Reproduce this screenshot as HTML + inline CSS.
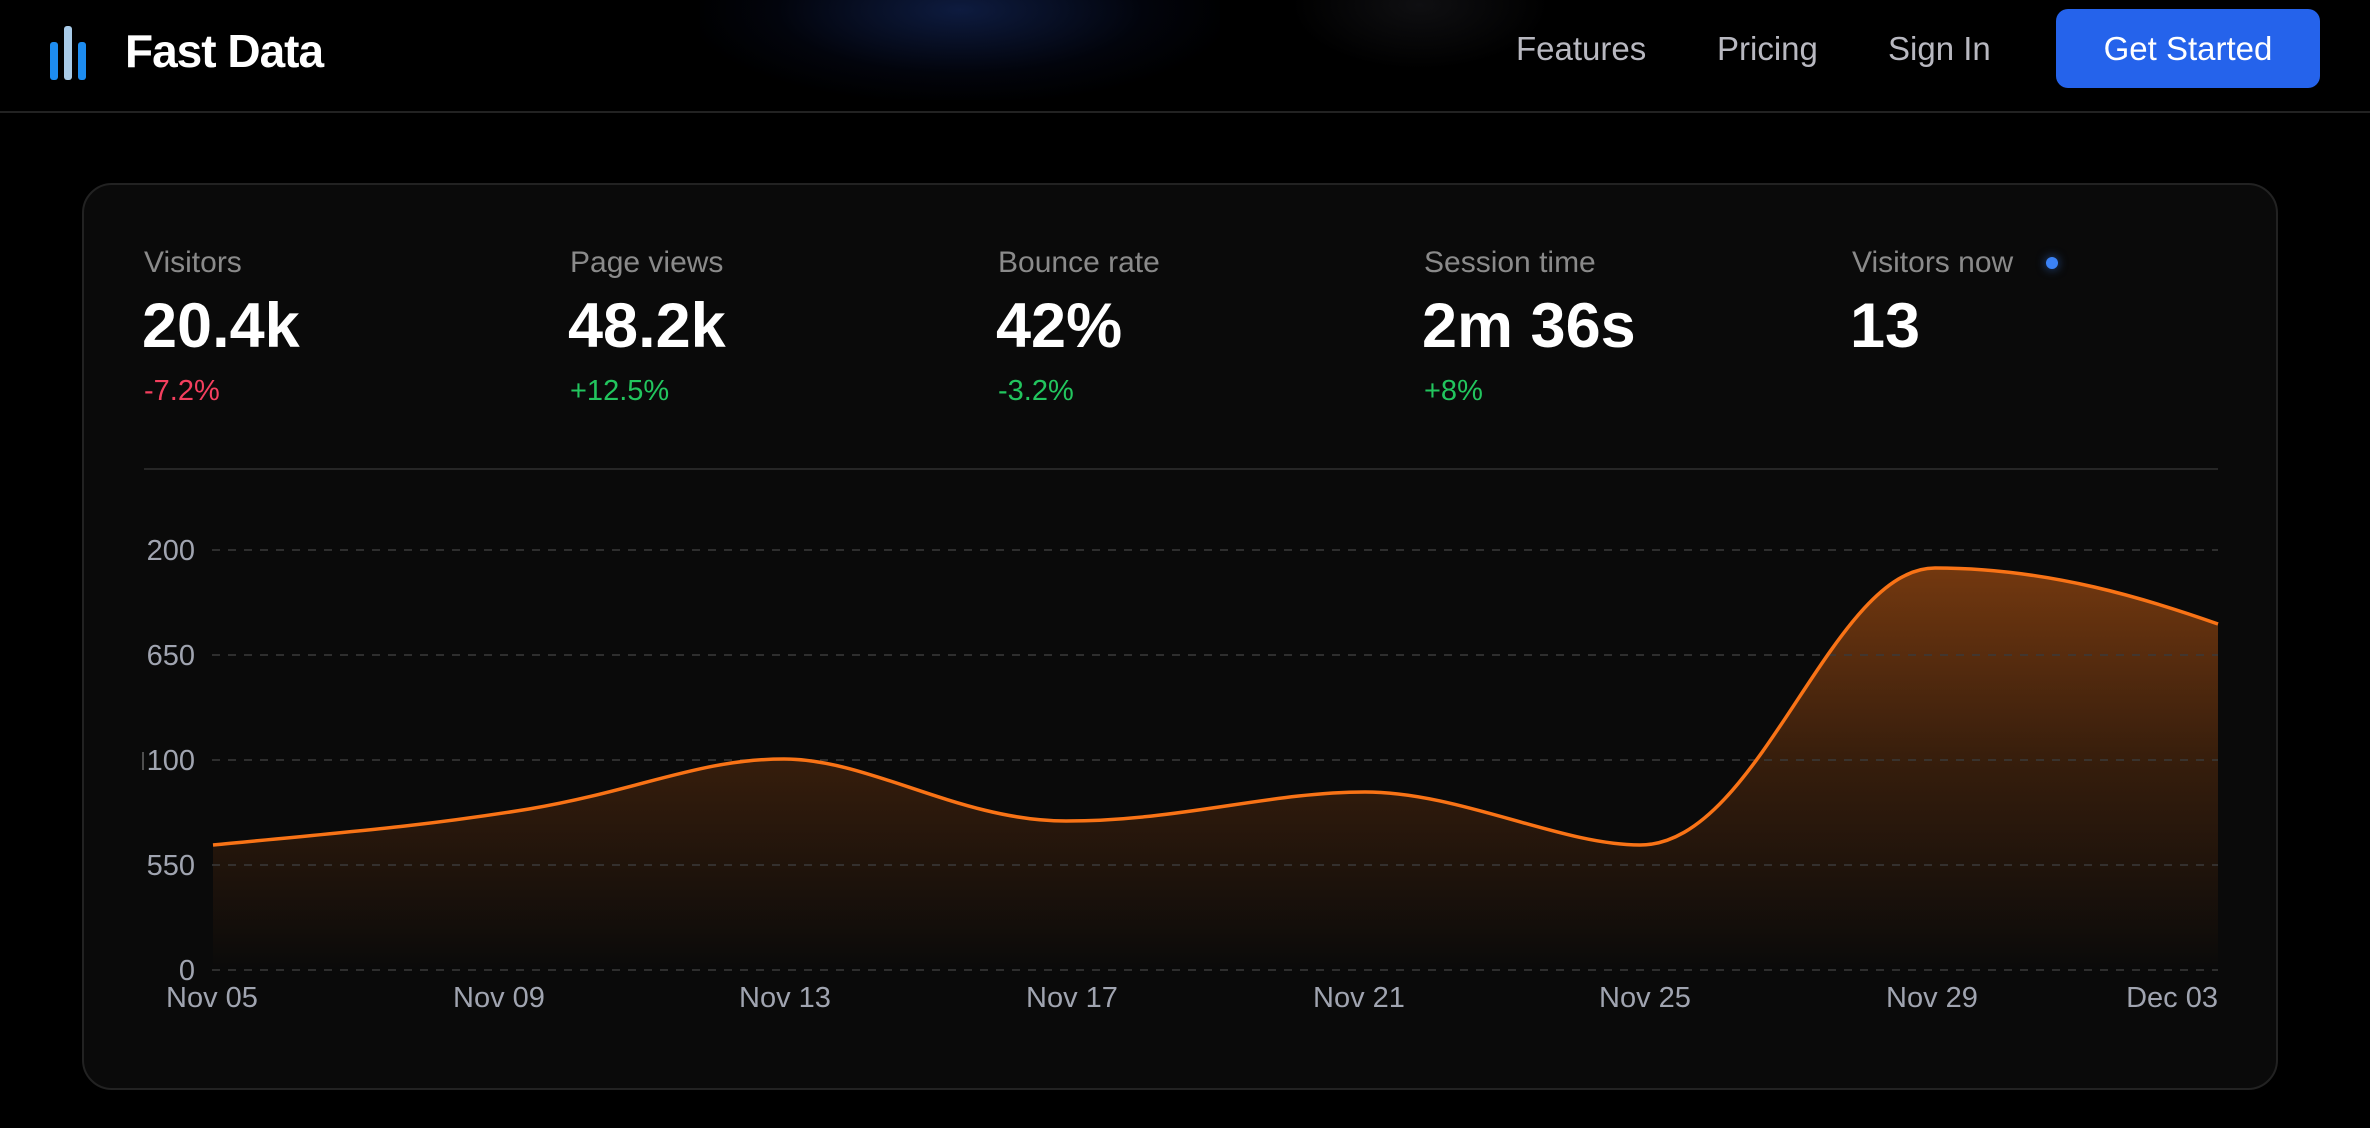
<!DOCTYPE html>
<html><head><meta charset="utf-8"><style>
*{margin:0;padding:0;box-sizing:border-box}
body{width:2370px;height:1128px;background:#000;font-family:"Liberation Sans",sans-serif;position:relative;overflow:hidden}
.glow{position:absolute;left:700px;top:-80px;width:520px;height:180px;background:radial-gradient(ellipse at center,rgba(30,60,140,0.45),rgba(10,20,60,0.2) 50%,rgba(0,0,0,0) 75%)}
.glow2{position:absolute;left:1290px;top:-60px;width:260px;height:130px;background:radial-gradient(ellipse at center,rgba(60,60,70,0.25),rgba(0,0,0,0) 70%)}
.hdr{position:absolute;left:0;top:0;width:2370px;height:113px;border-bottom:2px solid #222}
.logo{position:absolute;left:125px;top:24px;color:#fff;font-weight:bold;font-size:46px;letter-spacing:-1px}
.nav{position:absolute;top:30px;color:#b8b8c0;font-size:33px}
.btn{position:absolute;left:2056px;top:9px;width:264px;height:79px;background:#2563eb;border-radius:12px;color:#fff;font-size:33px;text-align:center;line-height:79px}
.card{position:absolute;left:82px;top:183px;width:2196px;height:907px;background:#0a0a0a;border:2px solid #222;border-radius:30px}
.lab{position:absolute;top:246px;color:#8a8a8a;font-size:30px}
.val{position:absolute;top:290px;color:#fff;font-size:63px;font-weight:bold}
.chg{position:absolute;top:375px;font-size:29px}
.r{color:#f43f5e}.g{color:#22c55e}
.div{position:absolute;left:144px;top:468px;width:2074px;height:2px;background:#262626}
</style></head><body>
<div class="glow"></div><div class="glow2"></div>
<div class="hdr"></div>
<svg style="position:absolute;left:48px;top:26px" width="50" height="56">
<rect x="2" y="16" width="8" height="38" rx="3" fill="#1d8cf0"/>
<rect x="16" y="0" width="8" height="54" rx="3" fill="#a8cbe8"/>
<rect x="30" y="16" width="8" height="38" rx="3" fill="#1d8cf0"/>
</svg>
<div class="logo">Fast Data</div>
<div class="nav" style="left:1516px">Features</div>
<div class="nav" style="left:1717px">Pricing</div>
<div class="nav" style="left:1888px">Sign In</div>
<div class="btn">Get Started</div>
<div class="card"></div>
<div class="lab" style="left:144px">Visitors</div>
<div class="lab" style="left:570px">Page views</div>
<div class="lab" style="left:998px">Bounce rate</div>
<div class="lab" style="left:1424px">Session time</div>
<div class="lab" style="left:1852px">Visitors now</div>
<div style="position:absolute;left:2046px;top:257px;width:12px;height:12px;border-radius:50%;background:#3b82f6;box-shadow:0 0 10px rgba(59,130,246,0.6)"></div>
<div class="val" style="left:142px">20.4k</div>
<div class="val" style="left:568px">48.2k</div>
<div class="val" style="left:996px">42%</div>
<div class="val" style="left:1422px">2m 36s</div>
<div class="val" style="left:1850px">13</div>
<div class="chg r" style="left:144px">-7.2%</div>
<div class="chg g" style="left:570px">+12.5%</div>
<div class="chg g" style="left:998px">-3.2%</div>
<div class="chg g" style="left:1424px">+8%</div>
<div class="div"></div>
<svg style="position:absolute;left:0;top:0" width="2370" height="1128">
<defs><linearGradient id="f" gradientUnits="userSpaceOnUse" x1="0" y1="560" x2="0" y2="970">
<stop offset="0" stop-color="#f97316" stop-opacity="0.45"/><stop offset="0.5" stop-color="#f97316" stop-opacity="0.18"/><stop offset="1" stop-color="#f97316" stop-opacity="0"/></linearGradient></defs>
<path d="M213,845 C370,830 430,825 529,809 C640,790 700,759 784,759 C870,759 960,821 1066,821 C1180,821 1270,792 1365,792 C1460,792 1560,845 1640,845 C1760,845 1830,568 1935,568 C2050,568 2150,600 2218,624 L2218,970 L213,970 Z" fill="url(#f)"/>
<g stroke="#3a3a3a" stroke-width="1.5" stroke-dasharray="8,8">
<line x1="212" y1="550" x2="2218" y2="550"/><line x1="212" y1="655" x2="2218" y2="655"/>
<line x1="212" y1="760" x2="2218" y2="760"/><line x1="212" y1="865" x2="2218" y2="865"/>
<line x1="212" y1="970" x2="2218" y2="970"/></g>
<path d="M213,845 C370,830 430,825 529,809 C640,790 700,759 784,759 C870,759 960,821 1066,821 C1180,821 1270,792 1365,792 C1460,792 1560,845 1640,845 C1760,845 1830,568 1935,568 C2050,568 2150,600 2218,624" fill="none" stroke="#f97316" stroke-width="3.5"/>
<line x1="143" y1="752" x2="143" y2="770" stroke="#666" stroke-width="1.5"/>
<g fill="#a0a4b0" font-size="29" font-family="Liberation Sans" text-anchor="end">
<text x="195" y="560">200</text><text x="195" y="665">650</text><text x="195" y="770">100</text><text x="195" y="875">550</text><text x="195" y="980">0</text></g>
<g fill="#a0a4b0" font-size="29" font-family="Liberation Sans" text-anchor="middle">
<text x="212" y="1007">Nov 05</text><text x="499" y="1007">Nov 09</text><text x="785" y="1007">Nov 13</text><text x="1072" y="1007">Nov 17</text><text x="1359" y="1007">Nov 21</text><text x="1645" y="1007">Nov 25</text><text x="1932" y="1007">Nov 29</text><text x="2218" y="1007" text-anchor="end">Dec 03</text></g>
</svg>
</body></html>
